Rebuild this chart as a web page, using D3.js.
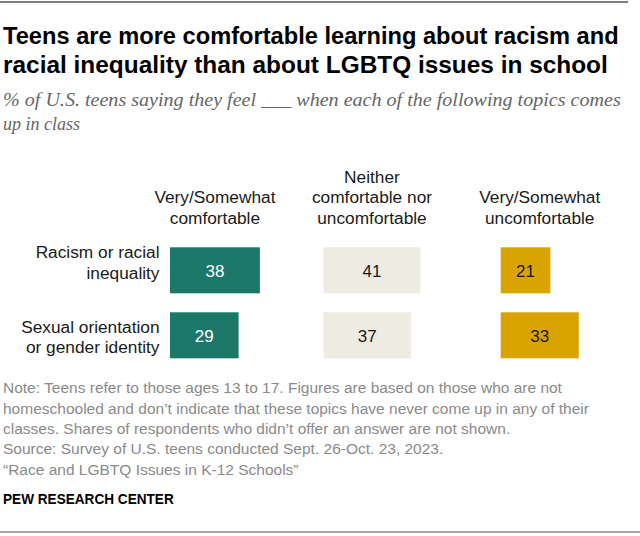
<!DOCTYPE html>
<html>
<head>
<meta charset="utf-8">
<script src="https://cdn.jsdelivr.net/npm/d3@7"></script>
<style>
  html, body { margin: 0; padding: 0; background: #fff; }
  svg { display: block; }
</style>
</head>
<body>
<svg id="chart" width="640" height="536"></svg>
<script>
// ---- Data ----
const topics = ["Racism or racial inequality", "Sexual orientation or gender identity"];
const topicLines = [["Racism or racial", "inequality"], ["Sexual orientation", "or gender identity"]];
const responses = ["Very/Somewhat comfortable", "Neither comfortable nor uncomfortable", "Very/Somewhat uncomfortable"];
const responseLines = [["Very/Somewhat", "comfortable"], ["Neither", "comfortable nor", "uncomfortable"], ["Very/Somewhat", "uncomfortable"]];
const comfortable = [38, 29];
const neither = [41, 37];
const uncomfortable = [21, 33];
const seriesValues = [comfortable, neither, uncomfortable];

const titleLines = ["Teens are more comfortable learning about racism and", "racial inequality than about LGBTQ issues in school"];
const subtitleLines = ["% of U.S. teens saying they feel ___ when each of the following topics comes", "up in class"];
const noteLines = [
  "Note: Teens refer to those ages 13 to 17. Figures are based on those who are not",
  "homeschooled and don\u2019t indicate that these topics have never come up in any of their",
  "classes. Shares of respondents who didn\u2019t offer an answer are not shown.",
  "Source: Survey of U.S. teens conducted Sept. 26-Oct. 23, 2023.",
  "\u201CRace and LGBTQ Issues in K-12 Schools\u201D"
];
const sourceLabel = "PEW RESEARCH CENTER";

// ---- Layout / style ----
const colors = ["#1b7767", "#eeebe3", "#d9a400"];
const valueColors = ["#ffffff", "#1a1a1a", "#1a1a1a"];
const sansFont = "'Liberation Sans', Arial, sans-serif";
const titleFont = "'Liberation Sans', Arial, sans-serif";
const serifFont = "'Liberation Serif', 'DejaVu Serif', serif";

const svg = d3.select("#chart");

// Fit a text to a target width by horizontal scaling (keeps glyph height)
function fitWidth(sel, x0, y0, target) {
  const w = sel.node().getComputedTextLength();
  const k = target / w;
  sel.attr("x", 0).attr("y", 0)
    .attr("transform", `translate(${x0},${y0}) scale(${k},1)`);
}

// Rules
svg.append("line").attr("x1", 0).attr("x2", 628).attr("y1", 2).attr("y2", 2)
  .attr("stroke", "#555").attr("stroke-width", 1.5);
svg.append("line").attr("x1", 0).attr("x2", 640).attr("y1", 532).attr("y2", 532)
  .attr("stroke", "#888").attr("stroke-width", 1.5);

// Title
titleLines.forEach((t, i) => {
  const tx = svg.append("text")
    .attr("font-family", titleFont).attr("font-weight", "bold")
    .attr("font-size", 23.5).attr("fill", "#000").text(t);
  fitWidth(tx, 3, 43.5 + i * 29.5, i === 0 ? 616 : 605);
});

// Subtitle
subtitleLines.forEach((t, i) => {
  const tx = svg.append("text")
    .attr("font-family", serifFont).attr("font-style", "italic")
    .attr("font-size", 18).attr("fill", "#666").text(t);
  if (i === 0) fitWidth(tx, 3, 106 + i * 24, 618);
  else tx.attr("x", 3).attr("y", 106 + i * 24);
});

// Scales
const x = d3.scaleLinear().domain([0, 100]).range([0, 236.5]);
const colStarts = [170, 323.5, 500.7];
const y = d3.scaleBand().domain(topics).range([247.3, 358.3]).paddingInner(0.292).paddingOuter(0);

const labelSize = 17.3;

// Column headers (centered over widest bar in column)
responses.forEach((r, j) => {
  const cx = colStarts[j] + x(d3.max(seriesValues[j])) / 2;
  const lines = responseLines[j];
  const lastBaseline = 223.5;
  lines.forEach((ln, k) => {
    svg.append("text").attr("x", cx).attr("y", lastBaseline - (lines.length - 1 - k) * 20.5)
      .attr("text-anchor", "middle").attr("font-family", sansFont)
      .attr("font-size", labelSize).attr("fill", "#1a1a1a").text(ln);
  });
});

// Row labels
const rowFirstBaselineOffset = [11, 20.4];
topics.forEach((t, i) => {
  topicLines[i].forEach((ln, k) => {
    svg.append("text").attr("x", 159.5).attr("y", y(t) + rowFirstBaselineOffset[i] + k * 20.8)
      .attr("text-anchor", "end").attr("font-family", sansFont)
      .attr("font-size", labelSize).attr("fill", "#1a1a1a").text(ln);
  });
});

// Bars
responses.forEach((r, j) => {
  const g = svg.append("g").attr("transform", `translate(${colStarts[j]},0)`);
  const data = topics.map((t, i) => ({ t, v: seriesValues[j][i] }));
  g.selectAll("rect").data(data).join("rect")
    .attr("x", 0).attr("y", d => y(d.t))
    .attr("width", d => x(d.v)).attr("height", y.bandwidth())
    .attr("fill", colors[j]);
  g.selectAll("text").data(data).join("text")
    .attr("x", d => x(d.v) / 2).attr("y", d => y(d.t) + y.bandwidth() / 2 + 6.5)
    .attr("text-anchor", "middle").attr("font-family", sansFont)
    .attr("font-size", 17).attr("fill", valueColors[j]).text(d => d.v);
});

// Notes
noteLines.forEach((t, i) => {
  svg.append("text").attr("x", 3).attr("y", 393.3 + i * 20.3)
    .attr("font-family", sansFont).attr("font-size", 15.5).attr("fill", "#8a8a8a").text(t);
});

const src = svg.append("text")
  .attr("font-family", sansFont).attr("font-weight", "bold")
  .attr("font-size", 14.5).attr("fill", "#000").text(sourceLabel);
fitWidth(src, 3, 504.3, 171);
</script>
</body>
</html>
